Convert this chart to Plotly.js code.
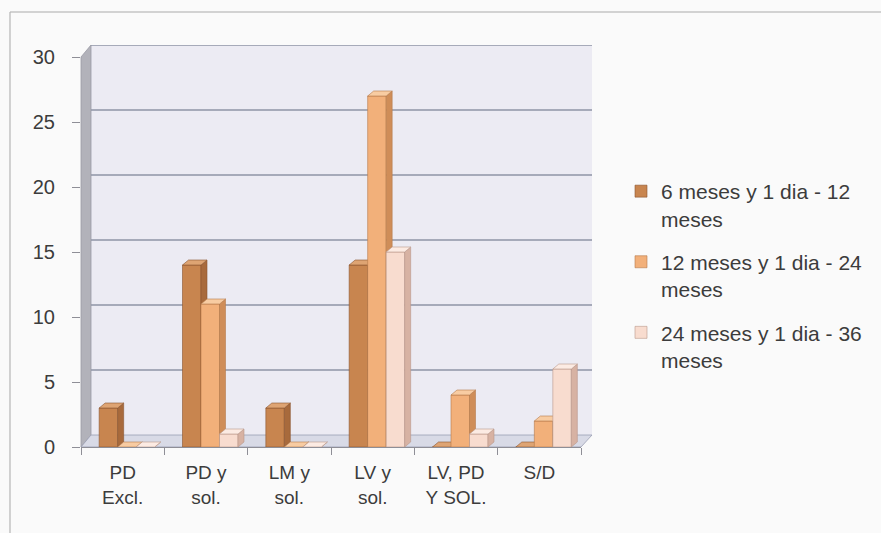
<!DOCTYPE html>
<html>
<head>
<meta charset="utf-8">
<script src="https://cdn.plot.ly/plotly-3.0.1.min.js"></script>
<style>
  html, body { margin: 0; padding: 0; background: #fafafa; }
  #chart { width: 881px; height: 533px; }
</style>
</head>
<body>
<div id="chart"></div>
<script>
// Categories along the x axis and the three age bands
const categories = ['PD<br>Excl.', 'PD y<br>sol.', 'LM y<br>sol.', 'LV y<br>sol.', 'LV, PD<br>Y SOL.', 'S/D'];
const seriesNames = [
  '6 meses y 1 dia - 12<br>meses',
  '12 meses y 1 dia - 24<br>meses',
  '24 meses y 1 dia - 36<br>meses'
];
const months6to12  = [3, 14, 3, 14, 0, 0];
const months12to24 = [0, 11, 0, 27, 4, 2];
const months24to36 = [0, 1, 0, 15, 1, 6];
const yTickValues = [0, 5, 10, 15, 20, 25, 30];

// Styling of the pseudo-3D look
const catIndex = categories.map((_, i) => i);
const barWidth = 0.222;
const barOffsets = [-0.282, -0.06, 0.162];
const depthX = 0.072;            // horizontal depth, x units
const depthY = 12 / 13;          // back-wall lift, y units
const barDepthY = 0.385;         // bar top depth, y units
const yMax = 30 + depthY;

const palette = [
  { front: '#c8854f', top: '#dea473', side: '#a86a3c', edge: '#8a5630' },
  { front: '#f2b07a', top: '#f8cca2', side: '#cf8d58', edge: '#b57a4c' },
  { front: '#f8dccf', top: '#fcebe3', side: '#d7b2a3', edge: '#b9978a' }
];
const allSeries = [months6to12, months12to24, months24to36];

const traces = [];
allSeries.forEach((vals, s) => {
  const yaxis = s === 0 ? 'y' : 'y' + (s + 1);
  const c = palette[s];
  const o = barOffsets[s];
  traces.push({
    type: 'bar', x: catIndex, y: vals, yaxis: yaxis,
    name: seriesNames[s], width: barWidth, offset: o,
    marker: { color: c.front, line: { color: c.edge, width: 0.6 } },
    legendgroup: 'g' + s, hoverinfo: 'y'
  });
  // top and side faces of each bar, derived from the same values
  const tx = [], ty = [], sx = [], sy = [];
  vals.forEach((v, i) => {
    const xl = i + o, xr = xl + barWidth;
    tx.push(xl, xr, xr + depthX, xl + depthX, xl, null);
    ty.push(v, v, v + barDepthY, v + barDepthY, v, null);
    sx.push(xr, xr + depthX, xr + depthX, xr, xr, null);
    sy.push(0, barDepthY, v + barDepthY, v, 0, null);
  });
  traces.push({
    type: 'scatter', mode: 'lines', x: sx, y: sy, yaxis: yaxis,
    fill: 'toself', fillcolor: c.side, line: { color: c.edge, width: 0.6 },
    showlegend: false, hoverinfo: 'skip', legendgroup: 'g' + s
  });
  traces.push({
    type: 'scatter', mode: 'lines', x: tx, y: ty, yaxis: yaxis,
    fill: 'toself', fillcolor: c.top, line: { color: c.edge, width: 0.6 },
    showlegend: false, hoverinfo: 'skip', legendgroup: 'g' + s
  });
});

// Back wall, side wall, floor and gridlines
const plotL = 81, plotR = 581, plotT = 45, plotB = 447;
const pxX = px => (px - plotL) / (plotR - plotL);
const pxY = py => (plotB - py) / (plotB - plotT);
const wallX0 = 0.02, wallX1 = 1.022, floorY = pxY(435);

const shapes = [
  // outer frame
  { type: 'line', xref: 'paper', yref: 'paper', x0: pxX(10), x1: pxX(881), y0: pxY(12), y1: pxY(12),
    line: { color: '#a9a9a9', width: 1.2 }, layer: 'below' },
  { type: 'line', xref: 'paper', yref: 'paper', x0: pxX(10), x1: pxX(10), y0: pxY(12), y1: pxY(533),
    line: { color: '#b5b5b5', width: 1.2 }, layer: 'below' },
  // back wall
  { type: 'rect', xref: 'paper', yref: 'paper', x0: wallX0, x1: wallX1, y0: floorY, y1: 1,
    fillcolor: '#ecebf3', line: { width: 0 }, layer: 'below' },
  // side wall
  { type: 'path', xref: 'paper', yref: 'paper',
    path: `M0,${pxY(447)} L0,${pxY(57)} L${wallX0},1 L${wallX0},${floorY} Z`,
    fillcolor: '#b2b2ba', line: { color: '#9a9aa4', width: 0.8 }, layer: 'below' },
  // floor
  { type: 'path', xref: 'paper', yref: 'paper',
    path: `M0,0 L1,0 L${wallX1},${floorY} L${wallX0},${floorY} Z`,
    fillcolor: '#d8dae6', line: { color: '#9a9eb2', width: 0.8 }, layer: 'below' }
];
yTickValues.forEach(v => {
  if (v === 0) return;
  shapes.push({ type: 'line', xref: 'paper', yref: 'y', x0: wallX0, x1: wallX1,
    y0: v + depthY, y1: v + depthY, line: { color: '#8f94a6', width: 1.4 }, layer: 'below' });
});

const hiddenY = { overlaying: 'y', range: [0, yMax], visible: false, fixedrange: true };

const layout = {
  width: 881, height: 533,
  margin: { l: plotL, r: 881 - plotR, t: plotT, b: 533 - plotB, pad: 0 },
  paper_bgcolor: '#fafafa',
  plot_bgcolor: 'rgba(0,0,0,0)',
  font: { family: 'Liberation Sans, Arial, sans-serif', color: '#3c3c3c', size: 19 },
  barmode: 'overlay',
  xaxis: {
    range: [-0.5, 5.5], tickmode: 'array', tickvals: catIndex, ticktext: categories,
    ticks: '', showgrid: false, zeroline: false,
    showline: true, linecolor: '#8e8e96', linewidth: 1,
    minor: { tickmode: 'linear', tick0: -0.5, dtick: 1, ticks: 'outside', ticklen: 7, tickcolor: '#8e8e96', showgrid: false },
    ticklabelstandoff: 8,
    tickfont: { size: 19, color: '#3c3c3c' }, fixedrange: true
  },
  yaxis: {
    range: [0, yMax], tickmode: 'array', tickvals: yTickValues,
    ticks: 'outside', ticklen: 8, tickcolor: '#8e8e96',
    showgrid: false, zeroline: false, showline: false,
    ticklabelstandoff: 13, tickfont: { size: 20, color: '#3c3c3c' }, fixedrange: true
  },
  yaxis2: hiddenY,
  yaxis3: hiddenY,
  legend: {
    x: pxX(621), xanchor: 'left', y: pxY(171), yanchor: 'top',
    font: { size: 21, color: '#3c3c3c' }, valign: 'top',
    traceorder: 'grouped', tracegroupgap: 13,
    bgcolor: 'rgba(0,0,0,0)', borderwidth: 0
  },
  showlegend: true,
  shapes: shapes
};

Plotly.newPlot('chart', traces, layout, { displayModeBar: false, staticPlot: true });
</script>
</body>
</html>
